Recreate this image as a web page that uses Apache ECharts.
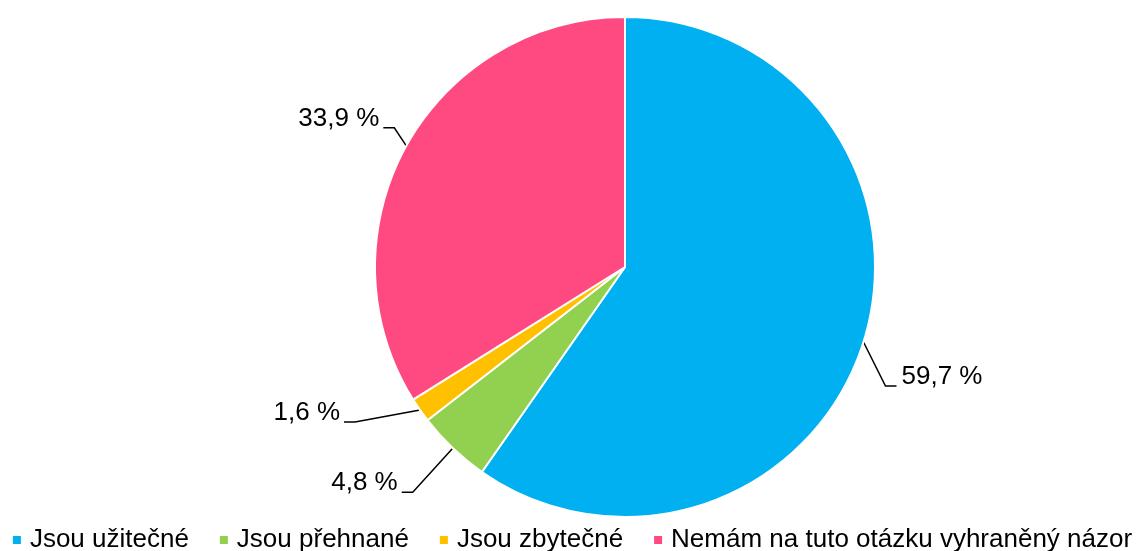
<!DOCTYPE html>
<html><head><meta charset="utf-8">
<script src="https://cdn.jsdelivr.net/npm/echarts@6/dist/echarts.min.js"></script>
<style>html,body{margin:0;padding:0;background:#fff}#c{width:1143px;height:551px}</style>
</head><body><div id="c"></div>
<script>
const categories = ['Jsou užitečné', 'Jsou přehnané', 'Jsou zbytečné', 'Nemám na tuto otázku vyhraněný názor'];
const values = [59.7, 4.8, 1.6, 33.9];
const colors = ['#00B0F0', '#92D050', '#FFC000', '#FF4A81'];
// label anchor offset from the slice's outer-edge point (styling)
const labelOffsets = [[38, 35], [-55, 35], [-80, 3], [-27, -27]];

const FONT = 'Liberation Sans, Arial, sans-serif';
const chart = echarts.init(document.getElementById('c'));
chart.setOption({
  animation: false,
  color: colors,
  textStyle: { fontFamily: FONT },
  legend: {
    bottom: -2, left: 'center', padding: 0,
    itemWidth: 10, itemHeight: 10, itemGap: 29,
    icon: 'rect',
    textStyle: { fontSize: 26, color: '#000', fontFamily: FONT, padding: [0, 0, 0, 3] },
    data: categories
  },
  series: [{
    type: 'pie',
    center: [625, 267],
    radius: 250,
    startAngle: 90,
    clockwise: true,
    avoidLabelOverlap: false,
    itemStyle: { borderColor: '#fff', borderWidth: 2 },
    label: {
      show: true,
      formatter: p => p.value.toFixed(1).replace('.', ',') + ' %',
      fontSize: 26, color: '#000', fontFamily: FONT,
      distanceToLabelLine: 4
    },
    labelLine: { show: true, length: 25, length2: 12, lineStyle: { color: '#000', width: 1.5 } },
    labelLayout: function (params) {
      const pts = params.labelLinePoints;
      if (!pts) return {};
      const edge = pts[0];
      const off = labelOffsets[params.dataIndex];
      const ax = edge[0] + off[0];
      const ay = edge[1] + off[1];
      const right = off[0] > 0;
      const endX = right ? ax - 5 : ax + 4;
      const lineY = ay + 9;
      const elbowX = right ? endX - 11 : endX + 11;
      return {
        x: ax, y: ay,
        align: right ? 'left' : 'right',
        verticalAlign: 'middle',
        labelLinePoints: [[edge[0], edge[1]], [elbowX, lineY], [endX, lineY]]
      };
    },
    data: categories.map((n, i) => ({ name: n, value: values[i] }))
  }]
});
</script></body></html>
